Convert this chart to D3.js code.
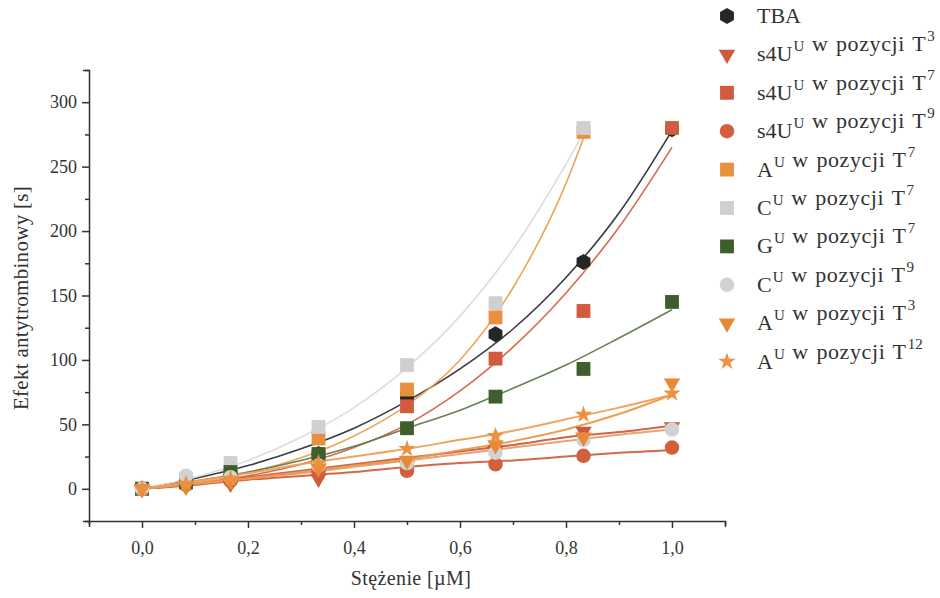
<!DOCTYPE html>
<html><head><meta charset="utf-8">
<script src="https://cdn.jsdelivr.net/npm/d3@7"></script>
<style>body{margin:0;background:#fff}svg{display:block}text{font-family:"Liberation Serif","Times New Roman",serif;fill:#333}</style>
</head><body><svg id="c" width="940" height="598"></svg>
<script>
// ---- data ----
const concentrations = [0, 0.083, 0.167, 0.333, 0.5, 0.667, 0.833, 1.0];
const fitX = [0, 0.1, 0.2, 0.3, 0.4, 0.5, 0.6, 0.7, 0.8, 0.9, 1.0];
const fitXShort = [0, 0.1, 0.2, 0.3, 0.4, 0.5, 0.6, 0.7, 0.8, 0.833];

const tba      = [0, 9, 12, 27, 72, 120, 176, 279];
const s4uT3    = [0, 2, 4, 8, 18, 30, 44.5, 48];
const s4uT7    = [0, 5, 10, 23, 64, 101, 138, 280];
const s4uT9    = [0, 3, 6, 14, 14, 19, 25.6, 32];
const aT7      = [0, 6, 12, 39, 77, 133, 277, null];
const cT7      = [0, 8, 20, 48, 96, 144, 280, null];
const gT7      = [0, 5, 13, 27, 47, 71.5, 93, 145];
const cT9      = [0, 10, 9, 18, 20, 28, 38, 46];
const aT3      = [0, 2, 6, 16, 22, 34, 40, 82];
const aT12     = [0, 4, 8, 20, 31, 41, 57.5, 74];

// fitted curves
const tbaFit   = [0, 8, 18, 31, 47, 68, 93, 124, 164, 214, 278];
const s4uT3Fit = [0, 4, 9, 14, 19, 24, 29, 34, 40, 44, 49];
const s4uT7Fit = [0, 4, 10, 19, 32, 50, 76, 110, 152, 203, 265];
const s4uT9Fit = [0, 3, 7, 10, 13, 17, 20, 22, 25, 28, 30];
const aT7Fit   = [0, 4.5, 12.4, 24, 41, 65, 100, 156, 237, 272];
const cT7Fit   = [0, 9, 22, 40, 63, 94, 134, 186, 252, 276];
const gT7Fit   = [0, 6, 13, 22, 33, 47, 61, 78, 96, 117, 139];
const cT9Fit   = [0, 4, 8, 12, 17, 22, 27, 32, 37, 42, 46];
const aT3Fit   = [0, 4, 8, 13, 18, 23, 30, 37, 46, 58, 73];
const aT12Fit  = [0, 6, 12, 19, 25, 31, 38, 45, 54, 63, 73];

const xTicks = [0, 0.2, 0.4, 0.6, 0.8, 1.0];
const yTicks = [0, 50, 100, 150, 200, 250, 300];

const series = [
  {name:["TBA"], vals:tba, fit:tbaFit, fx:fitX, sym:"hex", color:"#262626", line:"#2e2e36"},
  {name:["s4U","U"," w pozycji T","3"], vals:s4uT3, fit:s4uT3Fit, fx:fitX, sym:"tri", color:"#cc5a3c", line:"#cf5c40"},
  {name:["s4U","U"," w pozycji T","7"], vals:s4uT7, fit:s4uT7Fit, fx:fitX, sym:"sq", color:"#d25a3e", line:"#d8604a"},
  {name:["s4U","U"," w pozycji T","9"], vals:s4uT9, fit:s4uT9Fit, fx:fitX, sym:"circ", color:"#d2603f", line:"#d2603f"},
  {name:["A","U"," w pozycji T","7"], vals:aT7, fit:aT7Fit, fx:fitXShort, sym:"sq", color:"#e8903e", line:"#eba050"},
  {name:["C","U"," w pozycji T","7"], vals:cT7, fit:cT7Fit, fx:fitXShort, sym:"sq", color:"#cfcfcf", line:"#dadada"},
  {name:["G","U"," w pozycji T","7"], vals:gT7, fit:gT7Fit, fx:fitX, sym:"sq", color:"#3e5f2c", line:"#5e7a4c"},
  {name:["C","U"," w pozycji T","9"], vals:cT9, fit:cT9Fit, fx:fitX, sym:"circ", color:"#d2d2d2", line:"#e0a070"},
  {name:["A","U"," w pozycji T","3"], vals:aT3, fit:aT3Fit, fx:fitX, sym:"tri", color:"#e88a35", line:"#eb9a48"},
  {name:["A","U"," w pozycji T","12"], vals:aT12, fit:aT12Fit, fx:fitX, sym:"star", color:"#eb9140", line:"#eea058"}
];

// ---- chart ----
const svg = d3.select("#c");
const x = d3.scaleLinear().domain([-0.1, 1.1]).range([89, 725]);
const y = d3.scaleLinear().domain([-25, 325]).range([521, 70]);

function symPath(s, size){
  if (s === "hex") {
    const r = size/2 + 0.5; let p = [];
    for (let i=0;i<6;i++){ const a = Math.PI/6 + i*Math.PI/3; p.push([r*Math.cos(a), r*Math.sin(a)]); }
    return "M" + p.map(d=>d.join(",")).join("L") + "Z";
  }
  if (s === "tri") return d3.symbol(d3.symbolTriangle, size*size*0.52)();
  if (s === "sq") return d3.symbol(d3.symbolSquare, size*size*0.85)();
  if (s === "circ") return d3.symbol(d3.symbolCircle, size*size*0.74)();
  if (s === "star") return d3.symbol(d3.symbolStar, size*size*0.42)();
}

// fits
const line = d3.line().x(d=>x(d[0])).y(d=>y(d[1])).curve(d3.curveMonotoneX);
const lowSeries = new Set([1,3,7,8,9]);
series.forEach((s,i)=>{
  const pts = s.fx.map((xv,j)=>[xv, s.fit[j]]);
  svg.append("path").attr("d", line(pts)).attr("fill","none")
     .attr("stroke", s.line).attr("stroke-width", lowSeries.has(i) ? 2 : 1.6)
     .attr("stroke-opacity", 0.95);
});

// markers
series.forEach(s=>{
  const g = svg.append("g");
  concentrations.forEach((c,j)=>{
    const v = s.vals[j];
    if (v === null) return;
    const rot = s.sym === "tri" ? " rotate(180)" : "";
    g.append("path").attr("d", symPath(s.sym, 15))
      .attr("transform", `translate(${x(c)},${y(v)})${rot}`)
      .attr("fill", s.color);
  });
});

// axes
const xAxisG = svg.append("g").attr("transform", `translate(0,${y(-25)})`);
xAxisG.call(d3.axisBottom(x).tickValues(d3.range(-0.1, 1.1001, 0.1)).tickSize(6).tickFormat(""));
xAxisG.call(g=>g.selectAll(".tick line").attr("y2", d=> (Math.round(d*10)%2===0) ? 7 : 4));
const xLab = svg.append("g").attr("transform", `translate(0,${y(-25)})`)
  .call(d3.axisBottom(x).tickValues(xTicks).tickSize(0).tickPadding(20)
        .tickFormat(d=>d3.format(".1f")(d).replace(".",",")));
xLab.select(".domain").remove();

const yAxisG = svg.append("g").attr("transform", `translate(${x(-0.1)},0)`);
yAxisG.call(d3.axisLeft(y).tickValues(d3.range(-25, 326, 25)).tickSize(6).tickFormat(""));
yAxisG.call(g=>g.selectAll(".tick line").attr("x2", d=> (d%50===0) ? -7 : -4));
const yLab = svg.append("g").attr("transform", `translate(${x(-0.1)},0)`)
  .call(d3.axisLeft(y).tickValues(yTicks).tickSize(0).tickPadding(12));
yLab.select(".domain").remove();

svg.selectAll(".domain, .tick line").attr("stroke","#333").attr("stroke-width",1.5);
svg.selectAll(".tick text").attr("font-family","Liberation Serif").attr("font-size",18).attr("fill","#333");

svg.append("text").attr("x", 411).attr("y", 585).attr("text-anchor","middle")
  .attr("font-size",20).attr("letter-spacing",0.4).text("Stężenie [µM]");
svg.append("text").attr("transform","translate(28,298) rotate(-90)").attr("text-anchor","middle")
  .attr("font-size",21).attr("letter-spacing",0.3).text("Efekt antytrombinowy [s]");

// legend
const leg = svg.append("g");
series.forEach((s,i)=>{
  const cy = 16 + i*38.4;
  const rot = s.sym === "tri" ? " rotate(180)" : "";
  leg.append("path").attr("d", symPath(s.sym, 15))
    .attr("transform", `translate(727,${cy})${rot}`).attr("fill", s.color);
  const t = leg.append("text").attr("x", 757).attr("y", cy+7).attr("font-size", 22);
  s.name.forEach((part,k)=>{
    if (k % 2 === 1) {
      t.append("tspan").attr("dy",-10).attr("dx",1).attr("font-size",15).text(part);
      t.append("tspan").attr("dy",10).text("");
    } else if (k === 2) {
      t.append("tspan").attr("letter-spacing",0.6).attr("word-spacing",1.5).text(part);
    } else {
      t.append("tspan").text(part);
    }
  });
});
</script></body></html>
